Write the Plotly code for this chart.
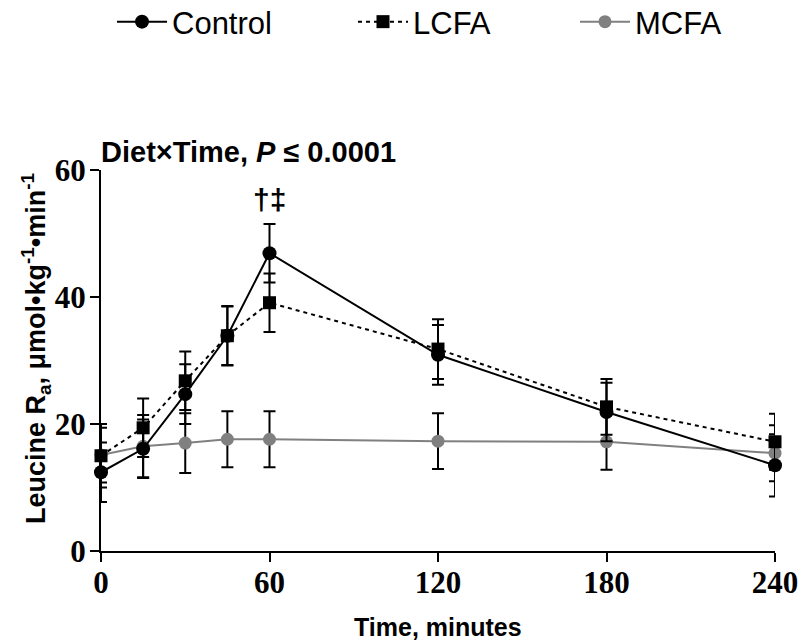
import plotly.graph_objects as go

# ---- data ----
time_min = [0, 15, 30, 45, 60, 120, 180, 240]

control = [12.4, 16.1, 24.7, 33.9, 46.9, 30.9, 21.9, 13.5]
control_err = [4.7, 4.6, 4.7, 4.7, 4.6, 4.7, 4.6, 4.9]

lcfa = [15.0, 19.4, 26.8, 33.9, 39.1, 31.8, 22.7, 17.2]
lcfa_err = [5.0, 4.6, 4.6, 4.6, 4.6, 4.7, 4.4, 4.4]

mcfa = [15.1, 16.5, 17.0, 17.6, 17.6, 17.3, 17.2, 15.4]
mcfa_err = [4.3, 4.9, 4.7, 4.4, 4.4, 4.4, 4.4, 4.4]

x_ticks = [0, 60, 120, 180, 240]
y_ticks = [0, 20, 40, 60]

SANS = "Liberation Sans, Arial, sans-serif"
SERIF = "Liberation Serif, Times New Roman, serif"

fig = go.Figure()

def err(vals):
    return dict(type="data", array=vals, visible=True, color="black",
                thickness=2, width=6)

fig.add_trace(go.Scatter(
    x=time_min, y=mcfa, name="MCFA", mode="lines+markers",
    line=dict(color="#808080", width=2),
    marker=dict(symbol="circle", size=13, color="#808080"),
    error_y=err(mcfa_err), cliponaxis=False, legend="legend3"))

fig.add_trace(go.Scatter(
    x=time_min, y=lcfa, name="LCFA", mode="lines+markers",
    line=dict(color="black", width=2, dash="4px,4px"),
    marker=dict(symbol="square", size=13, color="black"),
    error_y=err(lcfa_err), cliponaxis=False, legend="legend2"))

fig.add_trace(go.Scatter(
    x=time_min, y=control, name="Control", mode="lines+markers",
    line=dict(color="black", width=2),
    marker=dict(symbol="circle", size=14, color="black"),
    error_y=err(control_err), cliponaxis=False, legend="legend"))

L, R, T, B = 101, 23, 170, 93
W, H = 798, 644
pw, ph = W - L - R, H - T - B

def px_x(p):
    return (p - L) / pw

def px_y(p):
    return (H - B - p) / ph

leg_common = dict(orientation="h", yanchor="middle", xanchor="left",
                  font=dict(family=SANS, size=31, color="black"),
                  itemwidth=50, bgcolor="rgba(0,0,0,0)", borderwidth=0)

axis_common = dict(showgrid=False, zeroline=False, showline=True, linecolor="black",
                   linewidth=2, ticks="outside", ticklen=9, tickwidth=2,
                   tickcolor="black", ticklabeloverflow="allow",
                   tickfont=dict(family=SERIF, size=31, color="black", weight="bold"))

fig.update_layout(
    width=W, height=H,
    margin=dict(l=L, r=R, t=T, b=B, autoexpand=False),
    paper_bgcolor="white", plot_bgcolor="white",
    showlegend=True,
    legend=dict(x=px_x(112), y=px_y(22), **leg_common),
    legend2=dict(x=px_x(353), y=px_y(22), **leg_common),
    legend3=dict(x=px_x(575), y=px_y(22), **leg_common),
    xaxis=dict(range=[0, 240], tickvals=x_ticks, ticktext=[str(v) for v in x_ticks],
               ticklabelstandoff=-6, **axis_common),
    yaxis=dict(range=[0, 60], tickvals=y_ticks, ticktext=[str(v) for v in y_ticks],
               ticklabelstandoff=-2, **axis_common),
    annotations=[
        dict(text="<b>Diet×Time, <i>P</i> ≤ 0.0001</b>", xref="paper", yref="paper",
             x=px_x(99), y=1, xanchor="left", yanchor="middle", yshift=18,
             showarrow=False, font=dict(family=SANS, size=29, color="black")),
        dict(text="†‡", xref="x", yref="y", x=60, y=55.3, xanchor="center",
             yanchor="middle", showarrow=False,
             font=dict(family=SANS, size=30, color="black", weight="bold")),
        dict(text="<b>Leucine R<sub>a</sub>, μmol•kg<sup>-1</sup>•min<sup>-1</sup></b>",
             xref="paper", yref="paper", x=px_x(36), y=px_y(349), textangle=-90,
             xanchor="center", yanchor="middle", showarrow=False,
             font=dict(family=SANS, size=27, color="black")),
        dict(text="<b>Time, minutes</b>", xref="paper", yref="paper",
             x=0.5, y=px_y(627), xanchor="center", yanchor="middle", showarrow=False,
             font=dict(family=SANS, size=25, color="black")),
    ],
)

fig.write_html("out.html")
